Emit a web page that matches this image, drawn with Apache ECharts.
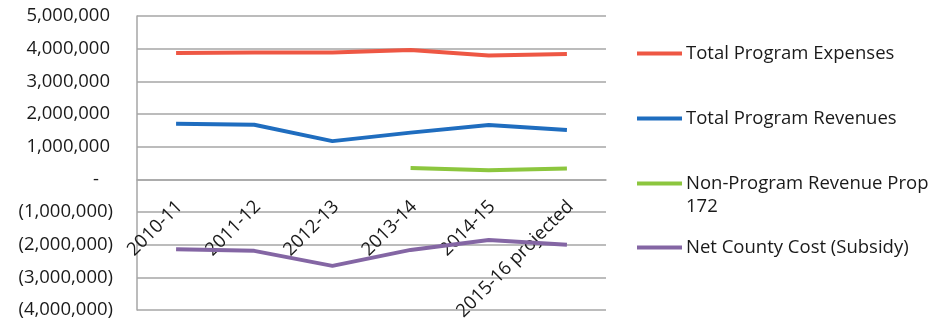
<!DOCTYPE html>
<html><head><meta charset="utf-8">
<script src="https://cdn.jsdelivr.net/npm/echarts@6/dist/echarts.min.js"></script>
<style>html,body{margin:0;padding:0;background:#fff}#c{width:933px;height:322px}</style>
</head><body><div id="c"></div>
<script>
const categories = ['2010-11','2011-12','2012-13','2013-14','2014-15','2015-16 projected'];
const expenses = [3870000, 3880000, 3880000, 3960000, 3790000, 3840000];
const revenues = [1700000, 1670000, 1170000, 1430000, 1660000, 1510000];
const nonProgram = [null, null, null, 350000, 280000, 330000];
const netCost = [-2140000, -2190000, -2650000, -2160000, -1860000, -2000000];
const yTicks = {min: -4000000, max: 5000000, interval: 1000000};
const seriesNames = ['Total Program Expenses','Total Program Revenues','Non-Program Revenue Prop 172','Net County Cost (Subsidy)'];

const FONT = 'Open Sans';
const FS = 18.5;
const TXT = '#1a1a1a';
const colors = ['#ee5744','#1f6dbf','#8cc63e','#8466a4'];
function fmt(v){
  if (v === 0) return '{z|-}';
  const s = Math.abs(v).toLocaleString('en-US');
  return v < 0 ? '{n|(' + s + ')}' : '{p|' + s + '}';
}
const chart = echarts.init(document.getElementById('c'));
const gridTop = 16, gridBottom = 12, H = 322;
const plotH = H - gridTop - gridBottom;
const zeroOffset = -plotH * (0 - yTicks.min) / (yTicks.max - yTicks.min);
const legendTops = [44, 109, 174, 238];
chart.setOption({
  animation: false,
  textStyle: {fontFamily: FONT},
  grid: {left: 137, right: 327, top: gridTop, bottom: gridBottom, containLabel: false, outerBoundsMode: 'none'},
  xAxis: {
    type: 'category', data: categories, boundaryGap: true,
    axisLine: {onZero: false, lineStyle: {color: '#a6a6a6', width: 1.5}},
    offset: zeroOffset,
    axisTick: {show: false},
    axisLabel: {rotate: 45, margin: 21, color: TXT, fontSize: FS, fontFamily: FONT, interval: 0,
      verticalAlign: 'top', lineHeight: 10}
  },
  yAxis: {
    type: 'value', min: yTicks.min, max: yTicks.max, interval: yTicks.interval,
    axisLine: {show: true, lineStyle: {color: '#a6a6a6', width: 1.5}},
    axisTick: {show: false},
    splitLine: {lineStyle: {color: '#a6a6a6', width: 1.5}},
    axisLabel: {
      margin: 22, color: TXT, fontSize: FS, fontFamily: FONT,
      formatter: fmt,
      rich: {
        p: {fontSize: FS, fontFamily: FONT, color: TXT, padding: [0, 5, 0, 0]},
        n: {fontSize: FS, fontFamily: FONT, color: TXT, padding: [0, 2, 0, 0]},
        z: {fontSize: FS, fontFamily: FONT, color: TXT, padding: [0, 16, 0, 0]}
      }
    }
  },
  legend: seriesNames.map((n, i) => ({
    data: [n], left: 637, top: legendTops[i], orient: 'vertical', padding: 0,
    icon: 'rect', itemWidth: 45, itemHeight: 4, itemGap: 0,
    formatter: name => name.replace(' 172', ''),
    textStyle: {fontSize: FS, fontFamily: FONT, color: TXT, padding: [0,0,0,-1]},
    selectedMode: false
  })),
  graphic: [{
    type: 'text', left: 686, top: 197,
    style: {text: '172', fontSize: FS, fontFamily: FONT, fill: TXT}
  }],
  series: [expenses, revenues, nonProgram, netCost].map((d, i) => ({
    name: seriesNames[i], type: 'line', data: d, symbol: 'none',
    lineStyle: {color: colors[i], width: 4}, itemStyle: {color: colors[i]},
    connectNulls: false
  }))
});
</script></body></html>
